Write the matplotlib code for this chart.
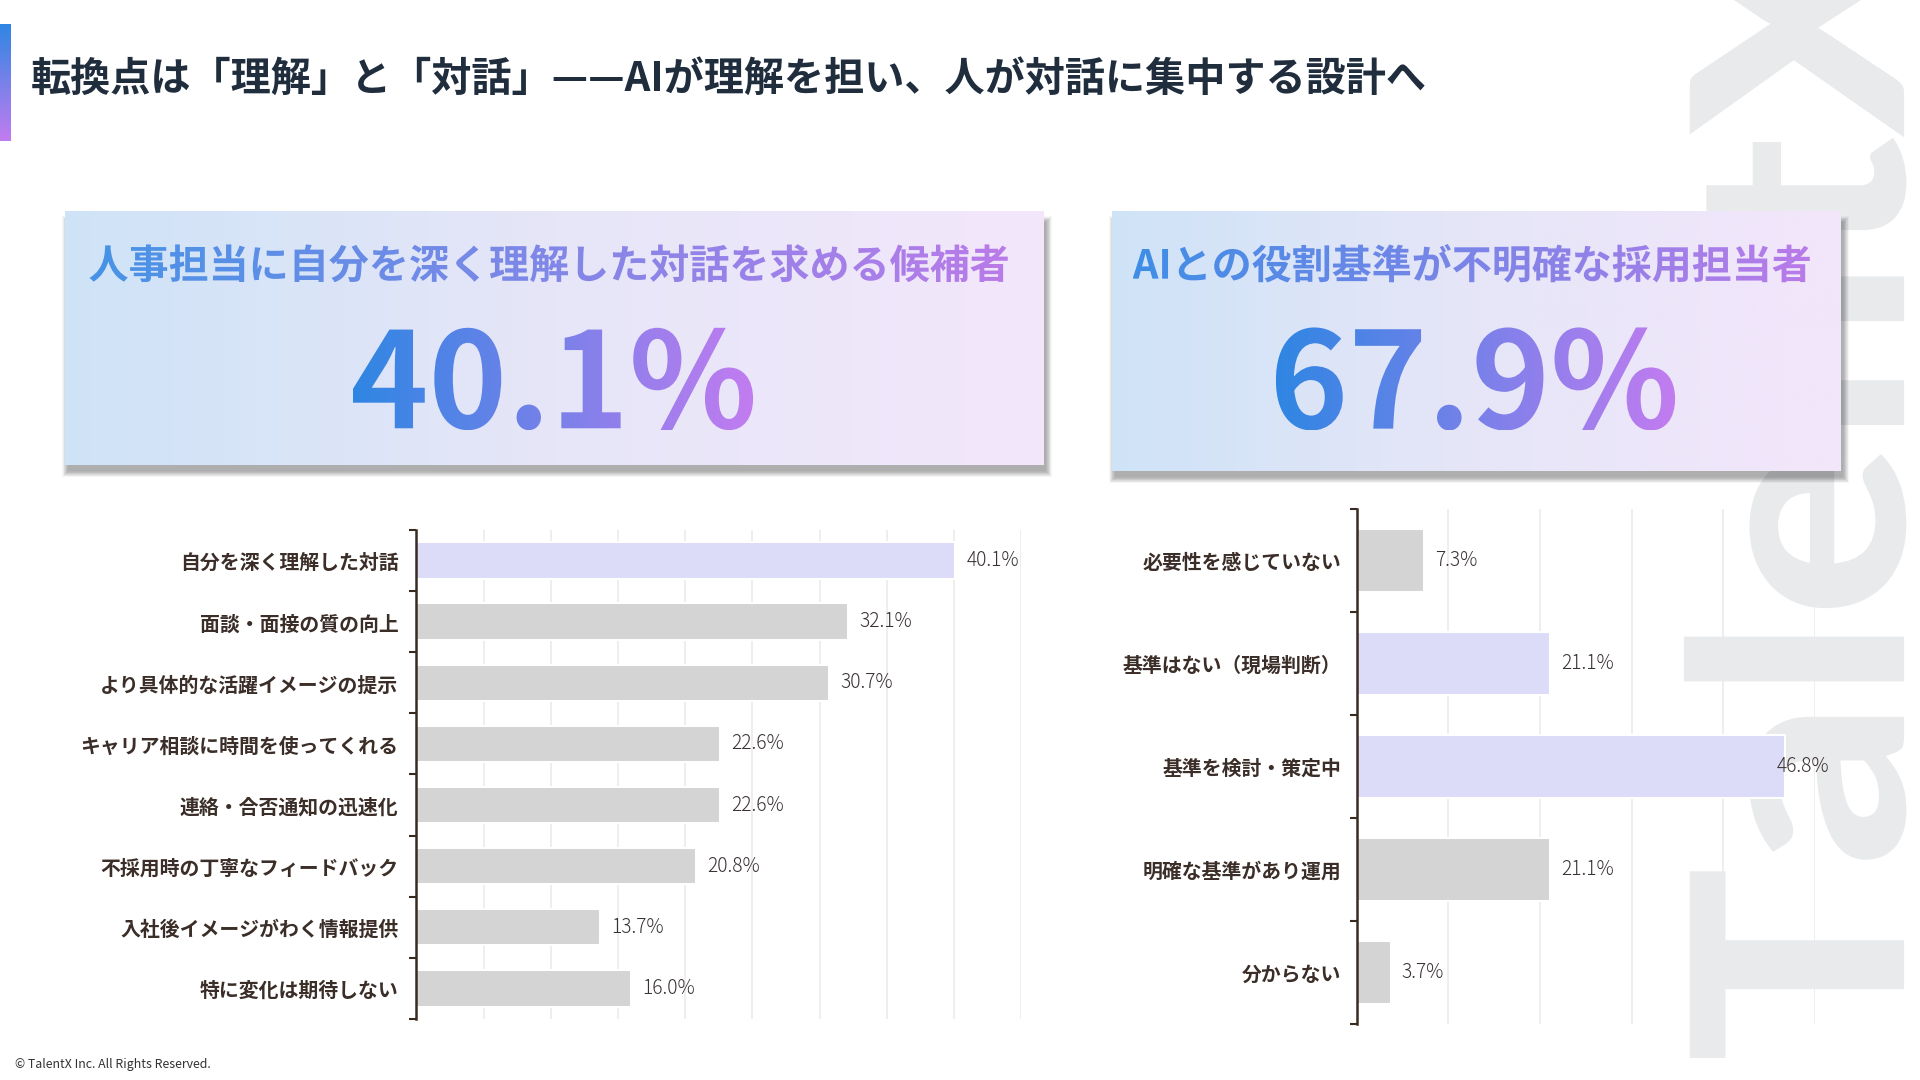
import numpy as np
import matplotlib
matplotlib.use("Agg")
import matplotlib.pyplot as plt
from matplotlib.textpath import TextPath
from matplotlib.font_manager import FontProperties
from matplotlib.patches import PathPatch, Rectangle
from matplotlib.colors import LinearSegmentedColormap
import matplotlib.transforms as mtransforms

plt.rcParams['font.family'] = ['Noto Sans CJK JP', 'DejaVu Sans']

# ---------------- data ----------------
title = "転換点は「理解」と「対話」——AIが理解を担い、人が対話に集中する設計へ"
card_left_label = "人事担当に自分を深く理解した対話を求める候補者"
card_left_value = "40.1%"
card_right_label = "AIとの役割基準が不明確な採用担当者"
card_right_value = "67.9%"

left_categories = ["自分を深く理解した対話", "面談・面接の質の向上", "より具体的な活躍イメージの提示",
                   "キャリア相談に時間を使ってくれる", "連絡・合否通知の迅速化", "不採用時の丁寧なフィードバック",
                   "入社後イメージがわく情報提供", "特に変化は期待しない"]
left_values = [40.1, 32.1, 30.7, 22.6, 22.6, 20.8, 13.7, 16.0]
left_highlight = [True, False, False, False, False, False, False, False]

right_categories = ["必要性を感じていない", "基準はない（現場判断）", "基準を検討・策定中",
                    "明確な基準があり運用", "分からない"]
right_values = [7.3, 21.1, 46.8, 21.1, 3.7]
right_highlight = [False, True, True, False, False]

watermark = "TalentX"
footer = "© TalentX Inc. All Rights Reserved."

# ---------------- style ----------------
HL = '#dcdcf8'
GRAY = '#d4d4d4'
SPINE = '#3a2b22'
LABEL = '#3b2e28'
VALC = '#3a3232'
BLUE = '#2f86e3'
PURPLE = '#c27cf0'

W0, H0 = 1568.0, 882.0
S = 1920.0 / W0


def P(x, y):
    return x * S, 1080 - y * S


fig = plt.figure(figsize=(19.2, 10.8), dpi=100)
fig.patch.set_facecolor('white')
bg = fig.add_axes([0, 0, 1, 1], zorder=0)
bg.set_autoscale_on(False)
bg.set_xlim(0, 1920)
bg.set_ylim(0, 1080)
bg.axis('off')


def grad_rect(ax, x0, y0, x1, y1, colors, zorder, horizontal=True):
    grad = np.linspace(0, 1, 256)
    grad = grad.reshape(1, -1) if horizontal else grad.reshape(-1, 1)
    cmap = LinearSegmentedColormap.from_list('g', colors)
    ax.imshow(grad, extent=(x0, x1, y0, y1), cmap=cmap, aspect='auto',
              zorder=zorder, interpolation='bicubic', origin='lower')


def grad_text(ax, s, cx, cy, width, fp, c1, c2, zorder=6):
    tp = TextPath((0, 0), s, size=100, prop=fp)
    ext = tp.get_extents()
    k = width / ext.width
    tr = (mtransforms.Affine2D()
          .translate(-(ext.x0 + ext.width / 2), -(ext.y0 + ext.height / 2))
          .scale(k).translate(cx, cy))
    path = tr.transform_path(tp)
    e = path.get_extents()
    patch = PathPatch(path, transform=ax.transData, facecolor='none', edgecolor='none')
    grad = np.linspace(0, 1, 256).reshape(1, -1)
    cmap = LinearSegmentedColormap.from_list('gt', [c1, c2])
    im = ax.imshow(grad, extent=(e.x0, e.x1, e.y0, e.y1), cmap=cmap, aspect='auto',
                   zorder=zorder, interpolation='bicubic')
    im.set_clip_path(patch)


# accent bar
x0, y0 = P(0, 115)
x1, y1 = P(12, 20)
grad_rect(bg, x0, y0, x1 - 4, y1, [PURPLE, BLUE], 3, horizontal=False)

# title
tx, ty = P(25, 65)
bg.text(tx, ty, title, fontsize=28.9, fontweight='bold', color='#1f2d3d',
        ha='left', va='center', zorder=6)

# watermark (rotated, reading bottom to top)
fpw = FontProperties(family='Lato', weight='black')
tpw = TextPath((0, 0), watermark, size=100, prop=fpw)
capT = TextPath((0, 0), 'T', size=100, prop=fpw).get_extents().y1
kw = (175 * S) / capT
bx, by = P(1555, 868)
trw = (mtransforms.Affine2D().scale(kw * 1.1, kw)
       .rotate_deg(90).translate(bx, by))
bg.add_patch(PathPatch(trw.transform_path(tpw), facecolor='#e9eaec', edgecolor='none', zorder=1))


# cards
def card(xa, ya, xb, yb):
    ax0, ay0 = P(xa, yb)
    ax1, ay1 = P(xb, ya)
    for i in range(10):
        bg.add_patch(Rectangle((ax0 + 3 - i * 0.6, ay0 - 6 - i * 0.6),
                               (ax1 - ax0) + i * 1.2, (ay1 - ay0) + i * 1.2 - 4,
                               facecolor='black', edgecolor='none', alpha=0.035, zorder=2))
    grad_rect(bg, ax0, ay0, ax1, ay1, ['#cfe3f7', '#e6e6f8', '#f3e6fb'], 3)


card(53, 173, 852, 380)
card(908, 173, 1503, 385)

fp_head = FontProperties(family='Noto Sans CJK JP', weight='bold')
fp_big = FontProperties(family='Noto Sans CJK JP', weight='bold')

cx, cy = P(448, 215)
grad_text(bg, card_left_label, cx, cy, 750 * S, fp_head, '#4793e6', '#b97be9')
cx, cy = P(451.5, 309.5)
grad_text(bg, card_left_value, cx, cy, 327 * S, fp_big, BLUE, PURPLE)
cx, cy = P(1201.5, 215)
grad_text(bg, card_right_label, cx, cy, 553 * S, fp_head, '#3f8ee6', '#b97be9')
cx, cy = P(1205, 309.5)
grad_text(bg, card_right_value, cx, cy, 326 * S, fp_big, BLUE, PURPLE)

# footer
fx, fy = P(12, 869)
bg.text(fx, fy, footer, fontsize=8.9, color='#333333', ha='left', va='center',
        family=['Noto Sans CJK JP', 'DejaVu Sans'], zorder=6)


# ---------------- charts ----------------
def bar_chart(rect, cats, vals, hl, xmax, gstep, height, pad):
    ax = fig.add_axes(rect, zorder=2)
    ax.patch.set_alpha(0)
    n = len(vals)
    y = np.arange(n)
    colors = [HL if h else GRAY for h in hl]
    ax.barh(y, vals, height=height, color=colors, edgecolor='white', linewidth=1.5, zorder=2)
    ax.set_ylim(n - 0.5, -0.5)
    ax.set_xlim(0, xmax)
    ax.set_xticks(np.arange(gstep, xmax + 0.01, gstep))
    ax.tick_params(axis='x', length=0, labelbottom=False)
    ax.grid(axis='x', color='#ebebeb', lw=1.2)
    ax.set_axisbelow(True)
    ax.set_yticks(y)
    ax.set_yticklabels(cats, fontweight='bold', fontsize=14.3, color=LABEL)
    ax.tick_params(axis='y', which='major', length=0, pad=pad)
    ax.set_yticks(np.arange(-0.5, n, 1), minor=True)
    ax.tick_params(axis='y', which='minor', length=5, width=1.5, color=SPINE, direction='out')
    for s in ['top', 'right', 'bottom']:
        ax.spines[s].set_visible(False)
    ax.spines['left'].set_color(SPINE)
    ax.spines['left'].set_linewidth(1.8)
    for i, v in enumerate(vals):
        off = -6 if v > 0.9 * xmax else 8
        ax.annotate(f"{v:.1f}%", xy=(v, i), xytext=(off, 0), textcoords='offset points',
                    ha='left', va='center', fontsize=13.8, color=VALC, fontweight='light',
                    family=['Noto Sans CJK JP', 'DejaVu Sans'], zorder=5)
    return ax


bar_chart([340 / W0, 1 - 832 / H0, (834 - 340) / W0, (832 - 433) / H0],
          left_categories, left_values, left_highlight, 45, 5, 0.6, 13)
bar_chart([1108 / W0, 1 - 836 / H0, (1482 - 1108) / W0, (836 - 416) / H0],
          right_categories, right_values, right_highlight, 50, 10, 0.61, 11)

fig.savefig('out.png', dpi=100, facecolor='white')
